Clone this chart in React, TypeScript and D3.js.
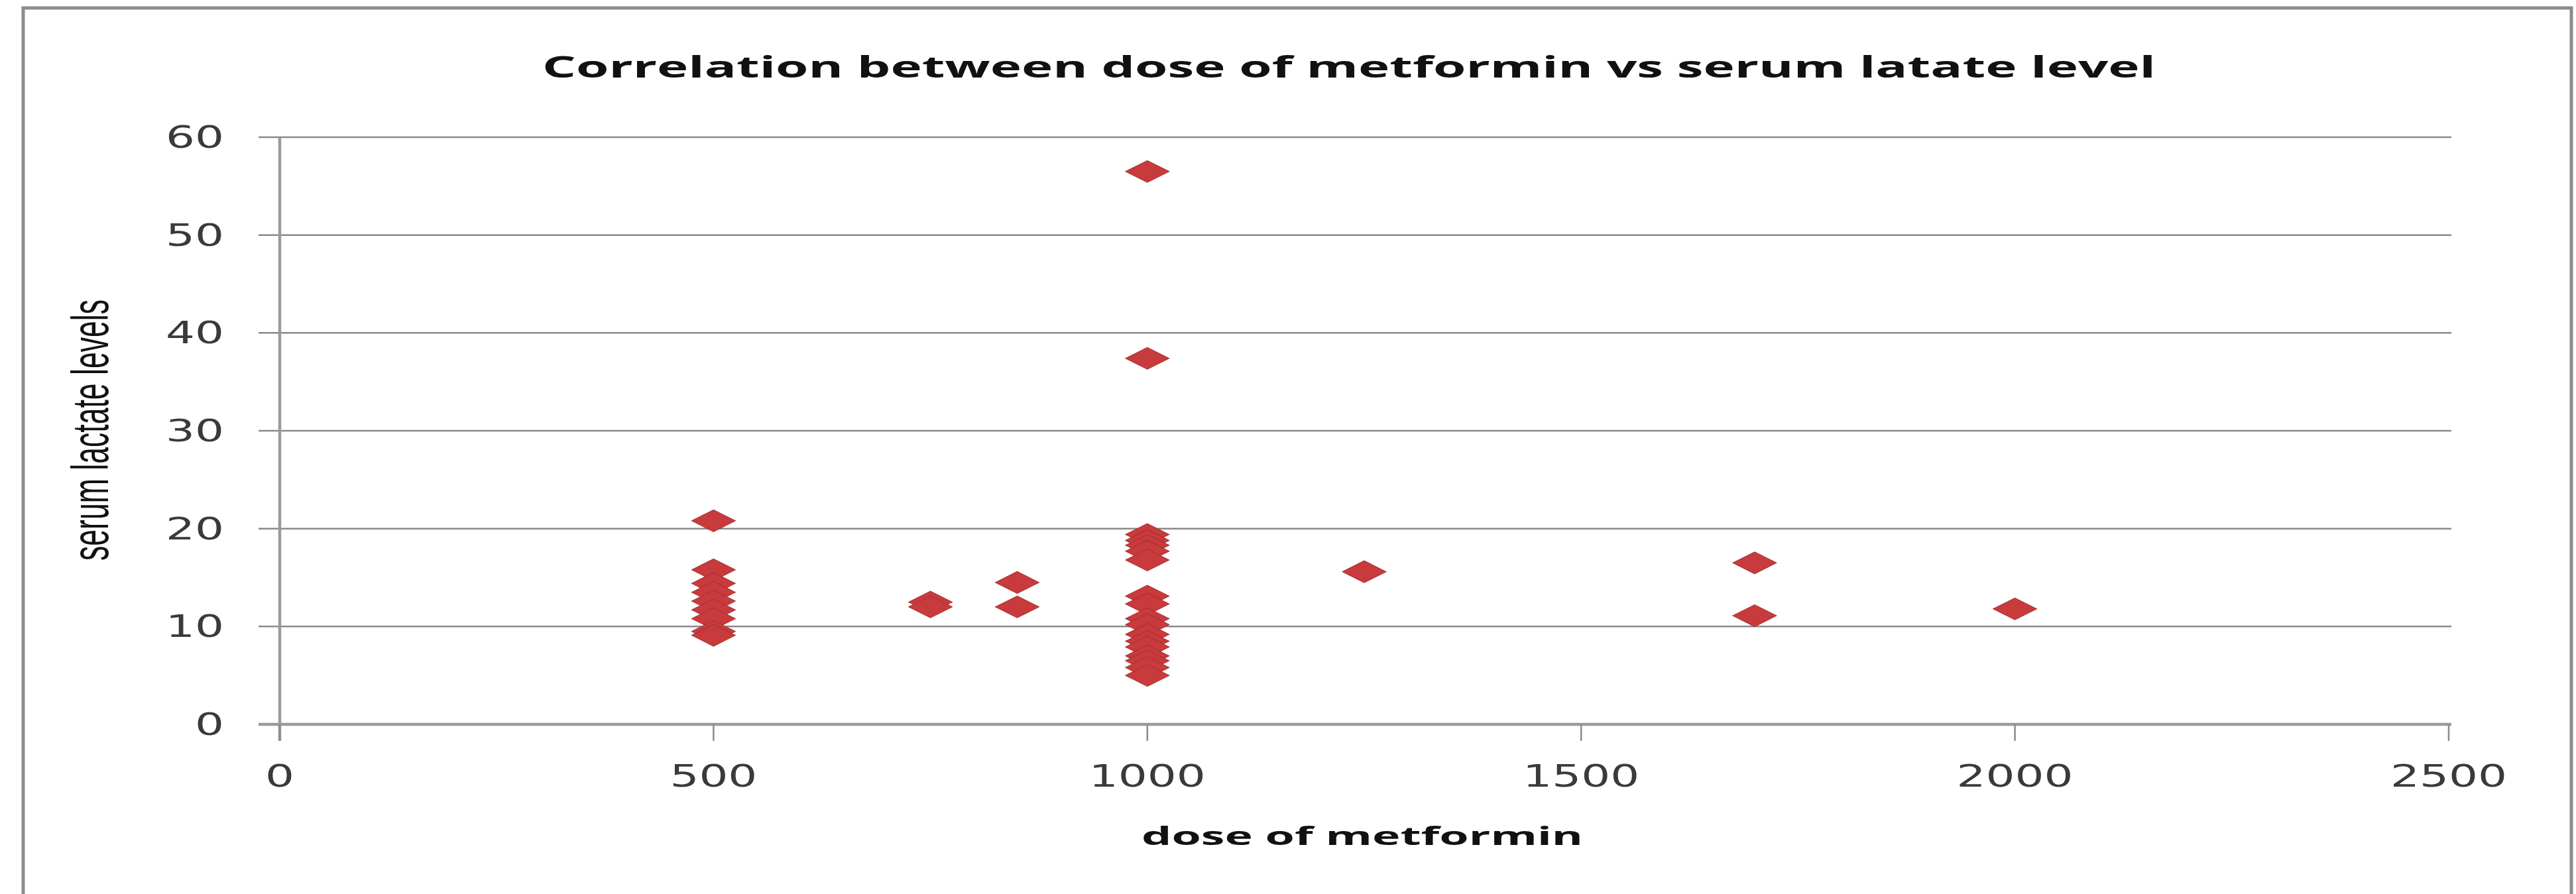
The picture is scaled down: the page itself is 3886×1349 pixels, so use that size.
import React from "react";
import * as d3 from "d3";

const chartTitle = "Correlation between dose of metformin vs  serum latate level";
const xAxisTitle = "dose of metformin";
const yAxisTitle = "serum lactate levels";

const xTicks = [0, 500, 1000, 1500, 2000, 2500];
const yTicks = [0, 10, 20, 30, 40, 50, 60];

// dose of metformin (mg) for each patient
const doses = [
  500, 500, 500, 500, 500, 500, 500, 500, 500,
  750, 750,
  850, 850,
  1000, 1000,
  1000, 1000, 1000, 1000, 1000,
  1000, 1000, 1000, 1000, 1000, 1000, 1000, 1000, 1000, 1000, 1000,
  1250,
  1700, 1700,
  2000,
];

// serum lactate level for each patient (same order)
const lactate = [
  20.8, 15.8, 14.4, 13.5, 12.6, 11.7, 10.8, 9.5, 9.1,
  12.5, 12.0,
  14.5, 12.0,
  56.5, 37.4,
  19.4, 18.8, 18.3, 17.7, 16.8,
  13.1, 12.3, 10.8, 10.2, 9.2, 8.5, 7.9, 7.0, 6.5, 5.8, 5.0,
  15.6,
  16.5, 11.1,
  11.8,
];

const W = 3886;
const H = 1349;

export default function App() {
  const x = d3.scaleLinear().domain([0, 2500]).range([422, 3694]);
  const y = d3.scaleLinear().domain([0, 60]).range([1093, 207]);

  const side = 46.7;
  const diamond = d3.symbol().type(d3.symbolSquare).size(side * side)() as string;

  const digitW = 44;
  const gridColor = "#8a8a8a";
  const axisColor = "#9a9a9a";

  return (
    <svg
      width={W}
      height={H}
      viewBox={`0 0 ${W} ${H}`}
      style={{ position: "absolute", left: 0, top: 0, background: "#ffffff" }}
    >
      <rect x={35} y={12} width={3844} height={1420} fill="#ffffff" stroke="#8c8c8c" strokeWidth={5} />

      {/* title */}
      <text
        x={818}
        y={117}
        fontFamily="'Open Sans', 'Liberation Sans', sans-serif"
        fontWeight={700}
        fontSize={45}
        fill="#111"
        textLength={2434}
        lengthAdjust="spacingAndGlyphs"
      >
        {chartTitle}
      </text>

      {/* horizontal gridlines + y tick marks */}
      {yTicks.filter((t) => t !== 0).map((t) => (
        <line key={"g" + t} x1={390} x2={x(2500) + 4} y1={y(t)} y2={y(t)} stroke={gridColor} strokeWidth={2.5} />
      ))}

      {/* y axis */}
      <line x1={x(0)} x2={x(0)} y1={y(60)} y2={1118} stroke={axisColor} strokeWidth={4.5} />
      {/* x axis */}
      <line x1={390} x2={x(2500) + 4} y1={y(0)} y2={y(0)} stroke={axisColor} strokeWidth={4.5} />
      {xTicks.map((t) => (
        <line key={"xt" + t} x1={x(t)} x2={x(t)} y1={y(0)} y2={1118} stroke={gridColor} strokeWidth={2.5} />
      ))}

      {/* y tick labels */}
      {yTicks.map((t) => {
        const s = String(t);
        const tl = digitW * s.length;
        return (
          <text
            key={"yl" + t}
            x={338 - tl}
            y={y(t) + 16}
            fontFamily="'DejaVu Sans', Verdana, sans-serif"
            fontSize={46}
            fill="#3a3a3a"
            textLength={tl}
            lengthAdjust="spacingAndGlyphs"
          >
            {s}
          </text>
        );
      })}

      {/* x tick labels */}
      {xTicks.map((t) => {
        const s = String(t);
        const tl = digitW * s.length;
        return (
          <text
            key={"xl" + t}
            x={x(t) - tl / 2}
            y={1187}
            fontFamily="'DejaVu Sans', Verdana, sans-serif"
            fontSize={46}
            fill="#3a3a3a"
            textLength={tl}
            lengthAdjust="spacingAndGlyphs"
          >
            {s}
          </text>
        );
      })}

      {/* axis titles */}
      <text
        x={1722}
        y={1275}
        fontFamily="'Open Sans', 'Liberation Sans', sans-serif"
        fontWeight={700}
        fontSize={38}
        fill="#111"
        textLength={666}
        lengthAdjust="spacingAndGlyphs"
      >
        {xAxisTitle}
      </text>
      <text
        transform="translate(163, 846) rotate(-90)"
        x={0}
        y={0}
        fontFamily="'Liberation Sans Narrow', 'Liberation Sans', sans-serif"
        fontSize={78}
        fill="#111"
        textLength={394}
        lengthAdjust="spacingAndGlyphs"
      >
        {yAxisTitle}
      </text>

      {/* points */}
      {doses.map((d, i) => (
        <path
          key={"p" + i}
          d={diamond}
          transform={`translate(${x(d)}, ${y(lactate[i])}) scale(1, 0.5) rotate(45)`}
          fill="#C83A3C"
          stroke="#A53131"
          strokeWidth={1.5}
        />
      ))}
    </svg>
  );
}
